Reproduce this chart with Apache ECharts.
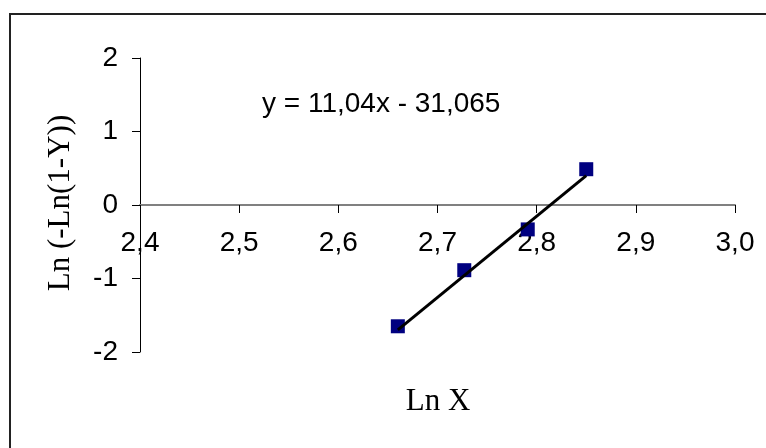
<!DOCTYPE html>
<html>
<head>
<meta charset="utf-8">
<script src="https://cdn.jsdelivr.net/npm/echarts@6/dist/echarts.min.js"></script>
<style>
  html, body { margin: 0; padding: 0; background: #fff; }
  #main { width: 766px; height: 448px; }
</style>
</head>
<body>
<div id="main"></div>
<script>
// Ln X / Ln(-Ln(1-Y)) points
var lnX = [2.660, 2.727, 2.791, 2.850];
var lnY = [-1.65, -0.887, -0.332, 0.487];
// trendline coefficients (from the equation label)
var slope = 11.04;
var intercept = -31.065;
var eqText = 'y = 11,04x - 31,065';

var points = lnX.map(function (x, i) { return [x, lnY[i]]; });
var xMin = Math.min.apply(null, lnX);
var xMax = Math.max.apply(null, lnX);
var trend = [[xMin, slope * xMin + intercept], [xMax, slope * xMax + intercept]];

var gridTop = 58, gridBottom = 96, chartH = 448;
var yMin = -2, yMax = 2;
// move the x axis up so it crosses at y = 0
var plotH = chartH - gridTop - gridBottom;
var xAxisOffset = -plotH * (0 - yMin) / (yMax - yMin);

var chart = echarts.init(document.getElementById('main'));
var option = {
  animation: false,
  backgroundColor: '#fff',
  grid: { left: 140, right: 31, top: gridTop, bottom: gridBottom },
  xAxis: {
    type: 'value',
    min: 2.4,
    max: 3.0,
    interval: 0.1,
    offset: xAxisOffset,
    splitLine: { show: false },
    axisLine: { onZero: false, lineStyle: { color: '#808080', width: 2 } },
    axisTick: { length: 8, lineStyle: { color: '#000', width: 1 } },
    axisLabel: {
      margin: 24,
      color: '#000',
      fontFamily: 'Liberation Sans, Arial',
      fontSize: 28,
      showMinLabel: true,
      showMaxLabel: true,
      formatter: function (v) { return v.toFixed(1).replace('.', ','); }
    }
  },
  yAxis: {
    type: 'value',
    min: yMin,
    max: yMax,
    interval: 1,
    splitLine: { show: false },
    axisLine: { onZero: false, lineStyle: { color: '#000', width: 1 } },
    axisTick: { length: 8, lineStyle: { color: '#000', width: 1 } },
    axisLabel: {
      margin: 22,
      color: '#000',
      fontFamily: 'Liberation Sans, Arial',
      fontSize: 28
    }
  },
  graphic: [
    {
      type: 'rect',
      shape: { x: 10, y: 14, width: 800, height: 500 },
      style: { fill: 'none', stroke: '#222', lineWidth: 2 },
      silent: true
    },
    {
      type: 'text',
      x: 262, y: 104,
      style: {
        text: eqText,
        fill: '#000',
        font: '28px "Liberation Sans", Arial',
        textVerticalAlign: 'middle'
      }
    },
    {
      type: 'text',
      x: 61, y: 203,
      rotation: Math.PI / 2,
      style: {
        text: 'Ln (-Ln(1-Y))',
        fill: '#000',
        font: '31px "Liberation Serif", "Times New Roman"',
        textAlign: 'center',
        textVerticalAlign: 'middle'
      }
    },
    {
      type: 'text',
      x: 438, y: 402,
      style: {
        text: 'Ln X',
        fill: '#000',
        font: '31px "Liberation Serif", "Times New Roman"',
        textAlign: 'center',
        textVerticalAlign: 'middle'
      }
    }
  ],
  series: [
    {
      type: 'line',
      data: trend,
      symbol: 'none',
      lineStyle: { color: '#000', width: 3 },
      z: 3
    },
    {
      type: 'scatter',
      data: points,
      symbol: 'rect',
      symbolSize: 14,
      itemStyle: { color: '#000080', opacity: 1 },
      z: 2
    }
  ]
};
chart.setOption(option);
</script>
</body>
</html>
